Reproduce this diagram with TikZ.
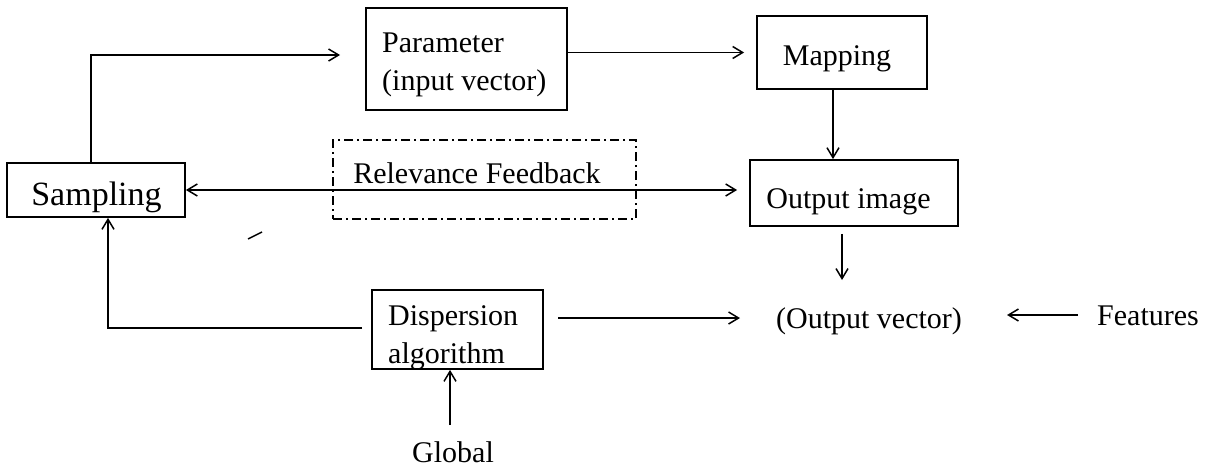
\documentclass[tikz,border=0pt]{standalone}
\usepackage{fontspec}
\setmainfont{Liberation Serif}
\usetikzlibrary{arrows.meta}
\begin{document}
\begin{tikzpicture}[x=1pt,y=-1pt,
  box/.style={draw,line width=1.8pt,inner sep=0pt},
  txt/.style={inner sep=0pt,anchor=base,font=\fontsize{30}{38}\selectfont},
  rfbox/.style={draw,line width=1.4pt,inner sep=0pt,dash pattern=on 9pt off 4pt on 2pt off 4pt},
  tip/.tip={Straight Barb[length=10pt,width=12pt,line width=1.5pt]},
  arr/.style={line width=1.5pt,-tip},
  darr/.style={line width=1.5pt,tip-tip}]
\useasboundingbox (0,0) rectangle (1207,469);
% boxes
\node[box,minimum width=178pt,minimum height=54pt] (samp) at (96,190) {};
\node[box,minimum width=201pt,minimum height=102pt] (param) at (466.5,59) {};
\node[box,minimum width=170pt,minimum height=73pt] (map) at (842,52.5) {};
\node[box,minimum width=208pt,minimum height=66pt] (oimg) at (854,193) {};
\node[rfbox,minimum width=303pt,minimum height=79pt] (rf) at (484.5,179.5) {};
\node[box,minimum width=171pt,minimum height=79pt] (disp) at (457.5,329.5) {};
% texts
\node[txt,font=\fontsize{34}{38}\selectfont] (sampt) at (96.5,205) {Sampling};
\node[txt,anchor=north west,align=left] (paramt) at (382,33) {Parameter\\(input vector)};
\node[txt] (mapt) at (837,65) {Mapping};
\node[txt] (oimgt) at (848.5,208) {Output image};
\node[txt] (rft) at (477,183) {Relevance Feedback};
\node[txt,anchor=north west,align=left] (dispt) at (388,305) {Dispersion\\algorithm};
\node[txt] (ov) at (869,328) {(Output vector)};
\node[txt] (feat) at (1148,325) {Features};
\node[txt] (glob) at (453,462) {Global};
% connectors
\coordinate (pin) at (340,55);
\draw[arr] ([xshift=-5pt]samp.north) |- (pin);
\draw[arr] (param.east |- map.west) -- ([xshift=-12pt]map.west);
\draw[arr] ([xshift=-9pt]map.south) -- ([xshift=-9pt]map.south |- oimg.north);
\draw[darr] (samp.east) -- ([xshift=-12pt]oimg.west |- samp.east);
\coordinate (ovin) at (842,280);
\draw[arr] ([shift={(-12pt,-7pt)}]oimg.south) -- (ovin);
\coordinate (dout) at (558,318);
\coordinate (ovw) at (740,318);
\draw[arr] (dout) -- (ovw);
\coordinate (fout) at (1078,315);
\coordinate (ove) at (1007,315);
\draw[arr] (fout) -- (ove);
\draw[arr] ([shift={(-9pt,1.5pt)}]disp.west) -| ([xshift=12pt]samp.south);
\coordinate (gout) at (450,425);
\draw[arr] (gout) -- (gout |- disp.south);
% stray mark
\coordinate (m1) at (248,239);
\coordinate (m2) at (262,232);
\draw[line width=1.5pt] (m1) -- (m2);
\end{tikzpicture}
\end{document}
